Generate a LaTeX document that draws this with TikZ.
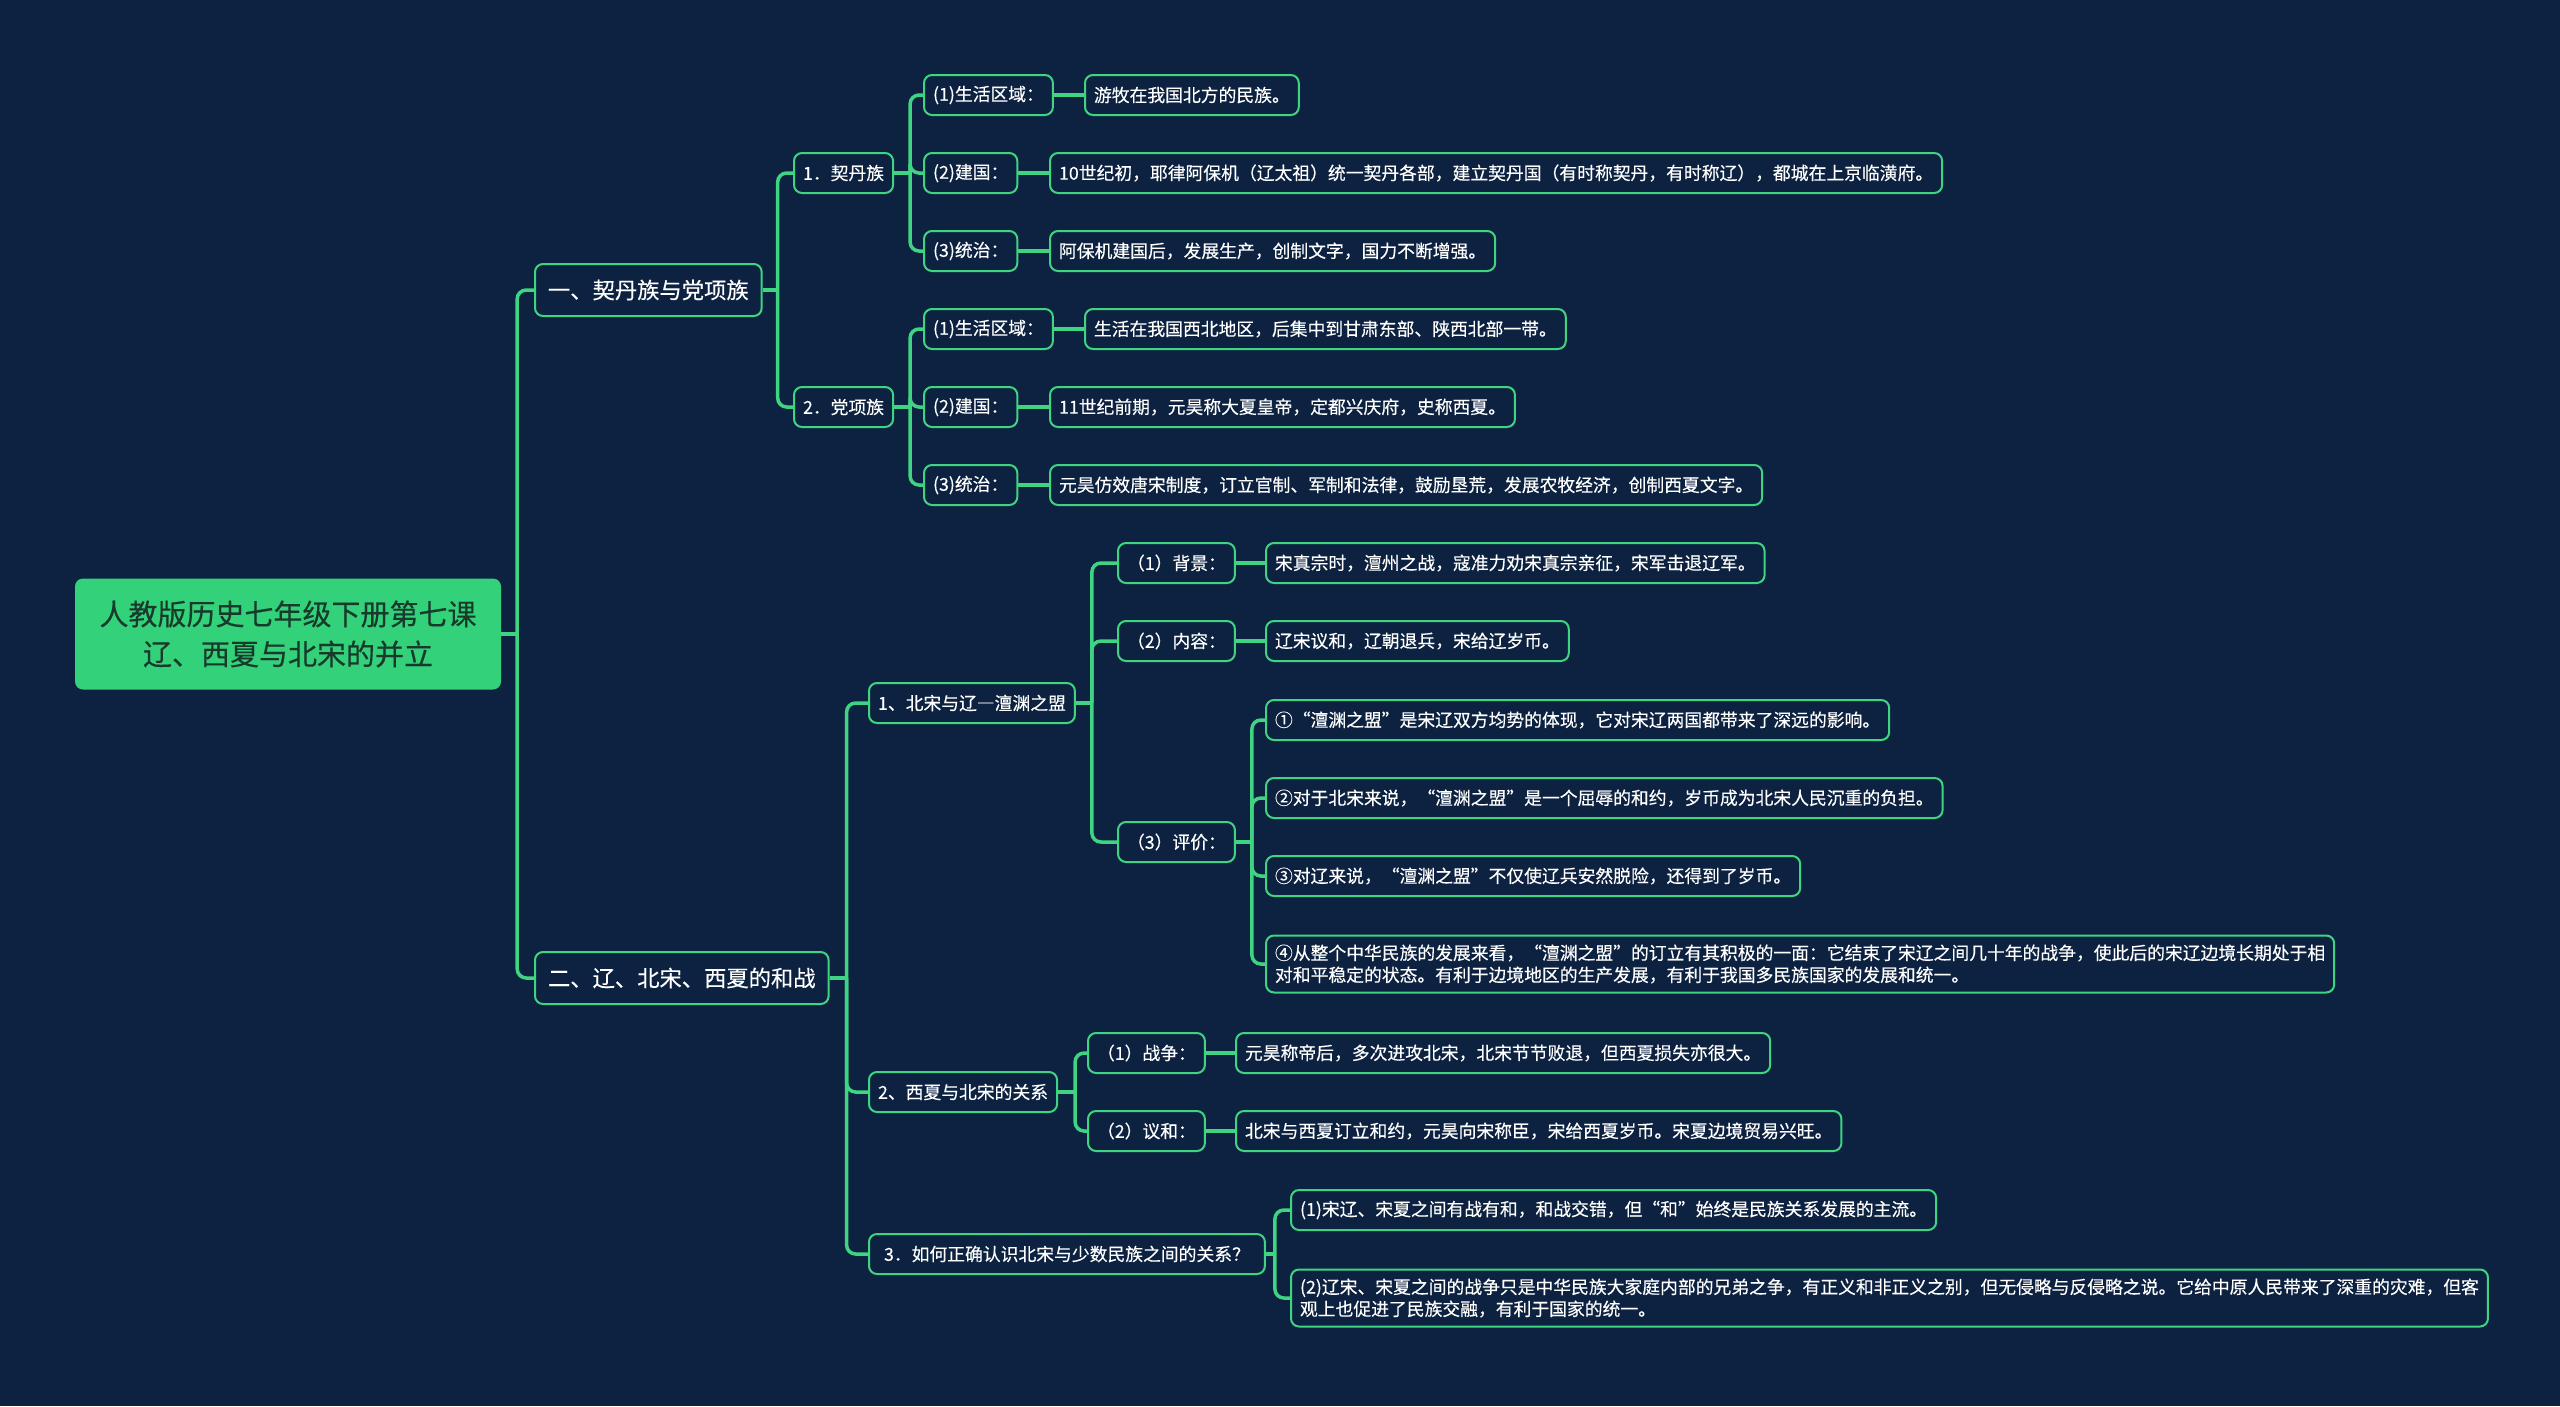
\documentclass[tikz,border=0pt]{standalone}
\usepackage{fontspec}
\setmainfont{Noto Sans CJK SC}[FakeBold=0.3]

\definecolor{bgnavy}{HTML}{0D2240}
\definecolor{mapgreen}{HTML}{3FD482}
\definecolor{rootgreen}{HTML}{33D17A}
\definecolor{roottext}{HTML}{173A2B}

\tikzset{
    box/.style={draw=mapgreen, line width=2pt, rounded corners=8pt, fill=bgnavy,
        text=white, inner xsep=9pt, inner ysep=9pt, minimum height=40pt,
        anchor=west, font=\fontsize{17.8}{22}\selectfont},
    topic/.style={box, minimum height=52pt, inner xsep=13pt,
        font=\fontsize{22.3}{26}\selectfont},
    rootbox/.style={fill=rootgreen, rounded corners=8pt, text=roottext,
        minimum width=426pt, minimum height=111pt, align=center,
        font=\fontsize{29}{40}\selectfont},
    link/.style={mapgreen, line width=3.5pt, rounded corners=9pt}
}

\begin{document}
\begin{tikzpicture}[x=1pt, y=-1pt]

% Background
\fill[bgnavy] (0,0) rectangle (2560,1406);
\useasboundingbox (0,0) rectangle (2560,1406);

% Root
\node[rootbox] (root) at (288,634) {人教版历史七年级下册第七课\\辽、西夏与北宋的并立};

% Main topics
\node[topic] (qd) at (534,290) {一、契丹族与党项族};
\node[topic] (hz) at (534,978) {二、辽、北宋、西夏的和战};

% Khitan
\node[box] (kd) at (793,173) {1．契丹族};
\node[box] (kd1) at (923,95) {(1)生活区域：};
\node[box] (kd2) at (923,173) {(2)建国：};
\node[box] (kd3) at (923,251) {(3)统治：};
\node[box] (kd1a) at (1084,95) {游牧在我国北方的民族。};
\node[box] (kd2a) at (1049,173) {10世纪初，耶律阿保机（辽太祖）统一契丹各部，建立契丹国（有时称契丹，有时称辽），都城在上京临潢府。};
\node[box] (kd3a) at (1049,251) {阿保机建国后，发展生产，创制文字，国力不断增强。};

% Tangut
\node[box] (dx) at (793,407) {2．党项族};
\node[box] (dx1) at (923,329) {(1)生活区域：};
\node[box] (dx2) at (923,407) {(2)建国：};
\node[box] (dx3) at (923,485) {(3)统治：};
\node[box] (dx1a) at (1084,329) {生活在我国西北地区，后集中到甘肃东部、陕西北部一带。};
\node[box] (dx2a) at (1049,407) {11世纪前期，元昊称大夏皇帝，定都兴庆府，史称西夏。};
\node[box] (dx3a) at (1049,485) {元昊仿效唐宋制度，订立官制、军制和法律，鼓励垦荒，发展农牧经济，创制西夏文字。};

% Chanyuan treaty
\node[box] (cy) at (868,703) {1、北宋与辽{\addfontfeatures{CharacterWidth=Full}—}澶渊之盟};
\node[box] (cy1) at (1117,563) {（1）背景：};
\node[box] (cy2) at (1117,641) {（2）内容：};
\node[box] (cy3) at (1117,842) {（3）评价：};
\node[box] (cy1a) at (1265,563) {宋真宗时，澶州之战，寇准力劝宋真宗亲征，宋军击退辽军。};
\node[box] (cy2a) at (1265,641) {辽宋议和，辽朝退兵，宋给辽岁币。};
\node[box] (py1) at (1265,720) {①“澶渊之盟”是宋辽双方均势的体现，它对宋辽两国都带来了深远的影响。};
\node[box] (py2) at (1265,798) {②对于北宋来说，“澶渊之盟”是一个屈辱的和约，岁币成为北宋人民沉重的负担。};
\node[box] (py3) at (1265,876) {③对辽来说，“澶渊之盟”不仅使辽兵安然脱险，还得到了岁币。};
\node[box, align=left] (py4) at (1265,964) {④从整个中华民族的发展来看，“澶渊之盟”的订立有其积极的一面：它结束了宋辽之间几十年的战争，使此后的宋辽边境长期处于相\\对和平稳定的状态。有利于边境地区的生产发展，有利于我国多民族国家的发展和统一。};

% Western Xia
\node[box] (xx) at (868,1092) {2、西夏与北宋的关系};
\node[box] (xx1) at (1087,1053) {（1）战争：};
\node[box] (xx2) at (1087,1131) {（2）议和：};
\node[box] (xx1a) at (1235,1053) {元昊称帝后，多次进攻北宋，北宋节节败退，但西夏损失亦很大。};
\node[box] (xx2a) at (1235,1131) {北宋与西夏订立和约，元昊向宋称臣，宋给西夏岁币。宋夏边境贸易兴旺。};

% Relations
\node[box, inner xsep=15pt] (rs) at (868,1254) {3．如何正确认识北宋与少数民族之间的关系？};
\node[box] (rs1) at (1290,1210) {(1)宋辽、宋夏之间有战有和，和战交错，但“和”始终是民族关系发展的主流。};
\node[box, align=left] (rs2) at (1290,1298) {(2)辽宋、宋夏之间的战争只是中华民族大家庭内部的兄弟之争，有正义和非正义之别，但无侵略与反侵略之说。它给中原人民带来了深重的灾难，但客\\观上也促进了民族交融，有利于国家的统一。};

% Junctions
\path (root.east) ++(16,0) coordinate (rootj);
\path (qd.east) ++(15,0) coordinate (qdj);
\path (hz.east) ++(17,0) coordinate (hzj);
\path (kd.east) ++(16,0) coordinate (kdj);
\path (dx.east) ++(16,0) coordinate (dxj);
\path (cy.east) ++(16,0) coordinate (cyj);
\path (cy3.east) ++(16,0) coordinate (cy3j);
\path (xx.east) ++(17,0) coordinate (xxj);
\path (rs.east) ++(9,0) coordinate (rsj);

% Links
\draw[link] (root.east) -- (rootj);
\draw[link] (rootj) |- (qd.west);
\draw[link] (rootj) |- (hz.west);

\draw[link] (qd.east) -- (qdj);
\draw[link] (qdj) |- (kd.west);
\draw[link] (qdj) |- (dx.west);

\draw[link] (kd.east) -- (kdj);
\draw[link] (kdj) |- (kd1.west);
\draw[link] (kdj) |- (kd2.west);
\draw[link] (kdj) |- (kd3.west);
\draw[link] (kd1) -- (kd1a);
\draw[link] (kd2) -- (kd2a);
\draw[link] (kd3) -- (kd3a);

\draw[link] (dx.east) -- (dxj);
\draw[link] (dxj) |- (dx1.west);
\draw[link] (dxj) |- (dx2.west);
\draw[link] (dxj) |- (dx3.west);
\draw[link] (dx1) -- (dx1a);
\draw[link] (dx2) -- (dx2a);
\draw[link] (dx3) -- (dx3a);

\draw[link] (hz.east) -- (hzj);
\draw[link] (hzj) |- (cy.west);
\draw[link] (hzj) |- (xx.west);
\draw[link] (hzj) |- (rs.west);

\draw[link] (cy.east) -- (cyj);
\draw[link] (cyj) |- (cy1.west);
\draw[link] (cyj) |- (cy2.west);
\draw[link] (cyj) |- (cy3.west);
\draw[link] (cy1) -- (cy1a);
\draw[link] (cy2) -- (cy2a);

\draw[link] (cy3.east) -- (cy3j);
\draw[link] (cy3j) |- (py1.west);
\draw[link] (cy3j) |- (py2.west);
\draw[link] (cy3j) |- (py3.west);
\draw[link] (cy3j) |- (py4.west);

\draw[link] (xx.east) -- (xxj);
\draw[link] (xxj) |- (xx1.west);
\draw[link] (xxj) |- (xx2.west);
\draw[link] (xx1) -- (xx1a);
\draw[link] (xx2) -- (xx2a);

\draw[link] (rs.east) -- (rsj);
\draw[link] (rsj) |- (rs1.west);
\draw[link] (rsj) |- (rs2.west);

\end{tikzpicture}
\end{document}
